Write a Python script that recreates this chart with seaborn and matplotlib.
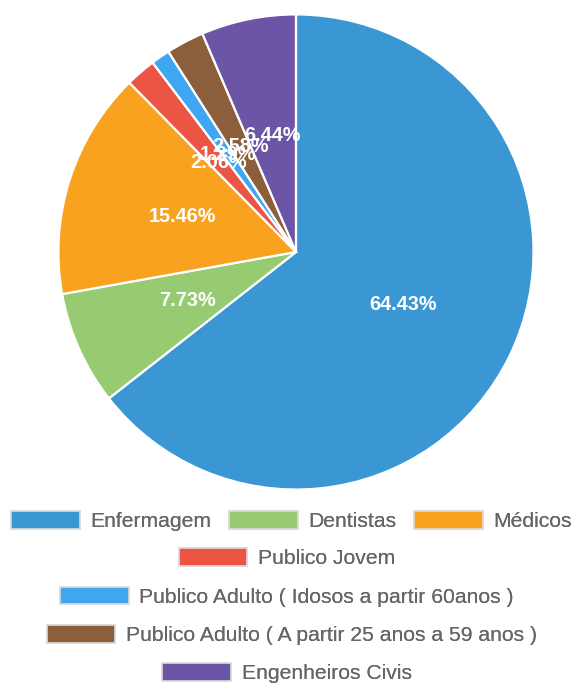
import matplotlib
matplotlib.use("Agg")
import matplotlib.pyplot as plt
import matplotlib.patches as mpatches
import seaborn as sns

# Respondents per group
categories = [
    "Enfermagem",
    "Dentistas",
    "Médicos",
    "Publico Jovem",
    "Publico Adulto ( Idosos a partir 60anos )",
    "Publico Adulto ( A partir 25 anos a 59 anos )",
    "Engenheiros Civis",
]
counts = [250, 30, 60, 8, 5, 10, 25]
colors = ["#3b97d3", "#97cb72", "#f9a21f", "#ec5443", "#3fa6f2", "#8b5e3c", "#6c55a6"]

sns.set_theme(style="white")
plt.rcParams["font.family"] = ["Liberation Sans", "DejaVu Sans"]

fig = plt.figure(figsize=(5.74, 6.84), dpi=100)
ax = fig.add_axes([0.0976, 0.2807, 0.836, 0.7018])

wedges, texts, autotexts = ax.pie(
    counts,
    colors=colors,
    startangle=90,
    counterclock=False,
    autopct="%.2f%%",
    pctdistance=0.5,
    wedgeprops=dict(edgecolor="white", linewidth=1.6),
    textprops=dict(color="white", fontsize=14.3, fontweight="bold"),
)
ax.set_xlim(-1.01, 1.01)
ax.set_ylim(-1.01, 1.01)
ax.set_aspect("equal")
ax.axis("off")

handles = [
    mpatches.Patch(facecolor=c, edgecolor="#dddddd", linewidth=1.2, label=lab)
    for c, lab in zip(colors, categories)
]

rows = [(0, 3), (3, 4), (4, 5), (5, 6), (6, 7)]
row_y = [0.2383, 0.1842, 0.1272, 0.0716, 0.0160]
row_x = [0.508, 0.5, 0.5, 0.508, 0.5]
for (a, b), x, y in zip(rows, row_x, row_y):
    leg = fig.legend(
        handles=handles[a:b],
        loc="center",
        bbox_to_anchor=(x, y),
        ncol=b - a,
        frameon=False,
        fontsize=15.2,
        handlelength=3.25,
        handleheight=0.9,
        handletextpad=0.5,
        columnspacing=0.85,
        borderpad=0.0,
        labelcolor="#666666",
    )
    fig.add_artist(leg)

fig.savefig("out.png", dpi=100)
